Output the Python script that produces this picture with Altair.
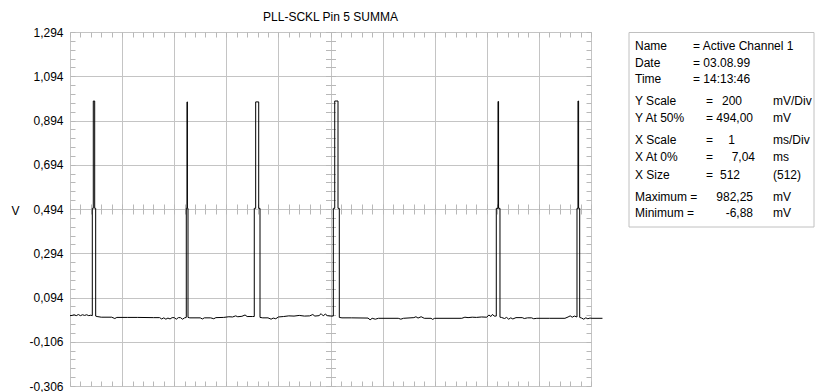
import altair as alt
import pandas as pd

# ---------------- data ----------------
title_text = "PLL-SCKL Pin 5 SUMMA"

# time in ms (1 ms/div, 512 samples -> trace runs a bit past 10 ms), voltage in V
trace_ms = [
    0.00, 0.04, 0.08, 0.12, 0.16, 0.20, 0.24, 0.28, 0.32, 0.36, 0.40, 0.428,
    0.428, 0.447, 0.447, 0.474, 0.474, 0.493, 0.493,
    0.52, 0.60, 0.80, 0.86, 0.90, 1.10, 1.30, 1.60, 1.72, 1.76, 1.80, 1.84, 1.88, 1.92, 1.96, 2.00,
    2.04, 2.08, 2.12, 2.16, 2.20, 2.232,
    2.232, 2.246, 2.246, 2.253, 2.253, 2.265, 2.265,
    2.30, 2.50, 2.54, 2.58, 2.70, 2.76, 2.80, 2.95, 3.05, 3.12, 3.18, 3.22, 3.30, 3.36, 3.40, 3.50, 3.537,
    3.537, 3.564, 3.564, 3.622, 3.622, 3.647, 3.647,
    3.70, 3.80, 3.86, 3.90, 3.95, 4.00, 4.10, 4.20, 4.30, 4.40, 4.50, 4.60, 4.66, 4.70, 4.78, 4.82,
    4.86, 4.90, 4.94, 5.00, 5.054,
    5.054, 5.081, 5.081, 5.144, 5.144, 5.169, 5.169,
    5.22, 5.40, 5.72, 5.76, 5.80, 5.86, 5.92, 6.30, 6.35, 6.40, 6.60, 6.64, 6.68, 6.74, 6.80, 6.93,
    6.96, 7.00, 7.52, 7.58, 7.64, 7.72, 7.80, 7.90, 8.00, 8.04, 8.08, 8.11, 8.14, 8.182,
    8.182, 8.215, 8.215, 8.226, 8.226, 8.253, 8.253,
    8.28, 8.34, 8.38, 8.42, 8.46, 8.50, 8.56, 8.68, 8.72, 8.78, 8.86, 8.90, 8.96, 9.20, 9.50, 9.56,
    9.60, 9.64, 9.68, 9.731,
    9.731, 9.750, 9.750, 9.762, 9.762, 9.783, 9.783,
    9.82, 9.86, 9.90, 9.94, 9.98, 10.02, 10.22,
]
trace_v = [
    0.012, 0.013, 0.016, 0.012, 0.017, 0.012, 0.016, 0.013, 0.016, 0.012, 0.014, 0.012,
    0.497, 0.497, 0.982, 0.982, 0.497, 0.497, 0.010,
    0.008, 0.005, 0.005, -0.001, 0.004, 0.004, 0.004, 0.003, 0.003, -0.003, 0.002, -0.004, 0.001, -0.003, 0.003, 0.003,
    -0.004, 0.003, 0.003, -0.004, 0.002, 0.004,
    0.497, 0.497, 0.978, 0.978, 0.497, 0.497, 0.004,
    0.002, 0.002, -0.003, 0.002, 0.002, -0.002, 0.003, 0.004, 0.007, 0.006, 0.011, 0.007, 0.009, 0.015, 0.008, 0.008, 0.008,
    0.497, 0.497, 0.978, 0.978, 0.497, 0.497, 0.004,
    0.002, 0.002, -0.004, 0.001, -0.002, 0.006, 0.008, 0.011, 0.010, 0.013, 0.010, 0.011, 0.017, 0.010, 0.012, 0.021,
    0.011, 0.019, 0.012, 0.010, 0.010,
    0.497, 0.497, 0.982, 0.982, 0.497, 0.497, 0.004,
    0.002, 0.002, 0.001, -0.0069, 0.000, -0.004, 0.000, 0.000, -0.004, 0.000, 0.003, 0.007, 0.001, 0.007, 0.000, 0.000,
    -0.005, 0.000, 0.000, 0.005, 0.003, 0.005, 0.004, 0.006, 0.005, 0.015, 0.008, 0.018, 0.010, 0.010,
    0.497, 0.497, 0.980, 0.980, 0.497, 0.497, 0.005,
    0.004, -0.001, 0.004, -0.004, 0.002, -0.003, 0.003, 0.003, -0.001, 0.002, 0.002, -0.002, 0.000, 0.000, 0.000, 0.006,
    0.011, 0.005, 0.010, 0.006,
    0.497, 0.497, 0.982, 0.982, 0.497, 0.497, 0.004,
    0.001, -0.004, 0.002, -0.002, 0.001, 0.000, 0.000,
]

x_major = [0, 1, 2, 3, 4, 5, 6, 7, 8, 9, 10]
x_minor = [round(0.2 * k, 1) for k in range(51)]
y_major = [-0.306, -0.106, 0.094, 0.294, 0.494, 0.694, 0.894, 1.094, 1.294]
y_minor = [round(-0.306 + 0.04 * k, 3) for k in range(41)]

info_labels = ["Name", "Date", "Time", "Y Scale", "Y At 50%", "X Scale", "X At 0%", "X Size",
               "Maximum =", "Minimum ="]
info_eq = ["= Active Channel 1", "= 03.08.99", "= 14:13:46", "=", "=", "=", "=", "=", "", ""]
info_values = ["", "", "", "200", "494,00", "1", "7,04", "512", "982,25", "-6,88"]
info_units = ["", "", "", "mV/Div", "mV", "ms/Div", "ms", "(512)", "mV", "mV"]

# ---------------- layout / style ----------------
W, H = 521, 354
FONT = "Liberation Sans"
GRID = "#c4c4c4"
TICK = "#b8b8b8"

row_y = [14, 30.7, 47.3, 69, 86.3, 108, 125.3, 143, 164.7, 181.3]
label_x = 565
eq_x_top = 623
eq_x = 639.5
value_right = [None, None, None, 672, 683, 665, 685, 670, 683, 683]
unit_x = 703

df = pd.DataFrame({"t": trace_ms, "v": trace_v, "i": list(range(len(trace_ms)))})

xs = alt.Scale(domain=[0, 10], nice=False, zero=False)
ys = alt.Scale(domain=[-0.306, 1.294], nice=False, zero=False)

label_expr = "replace(replace(format(datum.value, '.3f'), '.', ','), '\u2212', '-')"


def ghost(xaxis=None, yaxis=None):
    return alt.Chart(df).mark_line(strokeOpacity=0).encode(
        x=alt.X("t:Q", scale=xs, axis=xaxis),
        y=alt.Y("v:Q", scale=ys, axis=yaxis),
        order="i:Q",
    )


def tick_axis(orient, values, offset, size):
    return alt.Axis(orient=orient, values=values, offset=offset, ticks=True, tickSize=size,
                    tickColor=TICK, tickWidth=1, labels=False, domain=False, grid=False, title=None)


grid_layer = ghost(
    xaxis=alt.Axis(orient="bottom", values=x_major, grid=True, gridColor=GRID, gridWidth=1,
                   ticks=False, labels=False, domain=False, title=None),
    yaxis=alt.Axis(orient="left", values=y_major, grid=True, gridColor=GRID, gridWidth=1,
                   ticks=False, tickSize=0, labelPadding=7, labelExpr=label_expr,
                   labelFont=FONT, labelFontSize=12, labelColor="#000000", domain=False,
                   title="V", titleAngle=0, titleX=-55, titleY=178, titleAlign="center",
                   titleBaseline="middle", titleFont=FONT, titleFontSize=12,
                   titleFontWeight="normal", titleColor="#000000"),
)

layers = [
    grid_layer,
    ghost(xaxis=tick_axis("top", x_minor, -5, 5)),
    ghost(xaxis=tick_axis("bottom", x_minor, -5, 5)),
    ghost(xaxis=tick_axis("bottom", x_minor, -(H / 2 + 5), 10)),
    ghost(yaxis=tick_axis("left", y_minor, -5, 5)),
    ghost(yaxis=tick_axis("right", y_minor, -5, 5)),
    ghost(yaxis=tick_axis("left", y_minor, -(W / 2 + 5), 10)),
]

trace = alt.Chart(df).mark_line(color="#000000", strokeWidth=1, clip=False).encode(
    x=alt.X("t:Q", scale=xs, axis=None),
    y=alt.Y("v:Q", scale=ys, axis=None),
    order="i:Q",
)
layers.append(trace)

one = pd.DataFrame({"k": [0]})

title_layer = alt.Chart(one).mark_text(font=FONT, fontSize=12, color="#000000",
                                       align="center", baseline="middle").encode(
    x=alt.value(W / 2), y=alt.value(-15), text=alt.value(title_text))
layers.append(title_layer)

box = alt.Chart(one).mark_rect(fill="#ffffff", stroke="#c0c0c0", strokeWidth=1).encode(
    x=alt.value(559), x2=alt.value(744), y=alt.value(0.5), y2=alt.value(195))
layers.append(box)


def txt(s, x, y, align="left"):
    return alt.Chart(one).mark_text(font=FONT, fontSize=12, color="#000000",
                                    align=align, baseline="middle").encode(
        x=alt.value(x), y=alt.value(y), text=alt.value(s))


for r in range(len(info_labels)):
    y = row_y[r]
    layers.append(txt(info_labels[r], label_x, y))
    if info_eq[r]:
        if r < 3:
            layers.append(txt(info_eq[r], eq_x_top, y))
        else:
            layers.append(txt(info_eq[r], eq_x, y, "center"))
    if info_values[r]:
        layers.append(txt(info_values[r], value_right[r], y, "right"))
    if info_units[r]:
        layers.append(txt(info_units[r], unit_x, y))

chart = alt.layer(*layers).resolve_axis(x="independent", y="independent").properties(
    width=W, height=H,
    autosize=alt.AutoSizeParams(type="none"),
    padding={"left": 70, "top": 32, "right": 224, "bottom": 6},
).configure_view(stroke="#b0b0b0", strokeWidth=1).configure(background="#ffffff")

chart.save("out.html", embed_options={"renderer": "svg", "actions": False})
